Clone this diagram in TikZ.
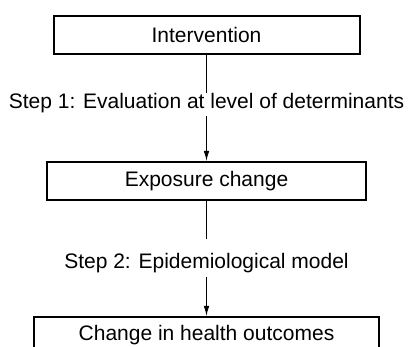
\documentclass[tikz,border=0pt]{standalone}
\usepackage{fontspec}
\setmainfont{Liberation Sans}
\usetikzlibrary{arrows.meta}

\begin{document}
\begin{tikzpicture}[x=1pt,y=-1pt,
  every node/.style={font=\fontsize{21}{25}\selectfont},
  stagebox/.style={draw=black,line width=2pt,minimum height=38pt,inner sep=0pt},
  steplabel/.style={inner sep=3.5pt},
  link/.style={line width=1pt},
  arrowlink/.style={line width=1pt,-{Latex[length=10pt,width=5.5pt]}}]
%\draw[step=10,gray,very thin] (0,0) grid (410,347); %background grid
\useasboundingbox (0,0) rectangle (410,347);

\node[stagebox,minimum width=306pt] (int) at (206.5,34.7) {Intervention};
\node[steplabel] (s1) at (206.5,102.9) {Step 1: Evaluation at level of determinants};
\node[stagebox,minimum width=319pt] (exp) at (206.5,181) {Exposure change};
\node[steplabel] (s2) at (206.5,263.5) {Step 2: Epidemiological model};
\node[stagebox,minimum width=345pt,minimum height=37pt] (out) at (206.5,335.5) {Change in health outcomes};

\draw[link,shorten >=-3.5pt] (int) -- (s1);
\draw[arrowlink] (s1) -- (exp);
\draw[link,shorten >=11.5pt] (exp) -- (s2);
\draw[arrowlink] (s2) -- (out);

\end{tikzpicture}
\end{document}
